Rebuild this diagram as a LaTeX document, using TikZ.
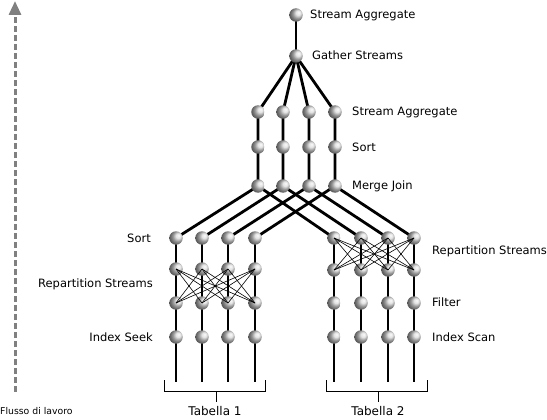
\documentclass[tikz,border=0pt]{standalone}
\usepackage{fontspec}
\setmainfont{DejaVu Sans}
\usetikzlibrary{arrows.meta}
\pgfdeclarelayer{bg}
\pgfsetlayers{bg,main}

\begin{document}
\begin{tikzpicture}[x=1pt,y=-1pt,
  op/.style={circle,inner sep=0pt,minimum size=13.5pt,ball color=gray!30,shading angle=-90},
  lbl/.style={font=\fontsize{11.5}{13}\selectfont,inner sep=0pt,anchor=west},
  pipe/.style={line width=2.8pt},
  xch/.style={line width=0.6pt}]
\useasboundingbox (0,0) rectangle (547,420);
% operators
\node[op] (top) at (296,15) {};
\node[op] (gs) at (296,56) {};
\foreach \x [count=\i] in {258,283,309,335}
	{
	\node[op] (sa\i) at (\x,112) {};
	\node[op] (so\i) at (\x,147) {};
	\node[op] (mj\i) at (\x,186) {};
	}
\foreach \x [count=\i] in {176,202,228,255} % table 1 side
	{
	\node[op] (ls\i) at (\x,238) {};
	\node[op] (lr\i) at (\x,269) {};
	\node[op] (lp\i) at (\x,303) {};
	\node[op] (lx\i) at (\x,337) {};
	\coordinate (le\i) at (\x,382);
	}
\foreach \x [count=\i] in {334,361,388,414} % table 2 side
	{
	\node[op] (rs\i) at (\x,238) {};
	\node[op] (rp\i) at (\x,270) {};
	\node[op] (rf\i) at (\x,303) {};
	\node[op] (rx\i) at (\x,337) {};
	\coordinate (re\i) at (\x,382);
	}
% thick pipes behind the operators
\begin{pgfonlayer}{bg}
\draw[pipe] (top.center) -- (gs.center);
\foreach \i in {1,2,3,4}
	{
	\draw[pipe] (gs.center) -- (sa\i.center) -- (so\i.center) -- (mj\i.center);
	\draw[pipe] (mj\i.center) -- (ls\i.center);
	\draw[pipe] (mj\i.center) -- (rs\i.center);
	\draw[pipe] (ls\i.center) -- (lr\i.center);
	\draw[pipe] (lr\i.center) -- (lp\i.center) -- (lx\i.center) -- (le\i);
	\draw[pipe] (rs\i.center) -- (rp\i.center) -- (rf\i.center) -- (rx\i.center) -- (re\i);
	}
\end{pgfonlayer}
% repartition exchanges
\foreach \i in {1,2,3,4}
	\foreach \j in {1,2,3,4}
	{
	\ifnum\i=\j\else
	\draw[xch] (lr\i.center) -- (lp\j.center);
	\draw[xch] (rs\i.center) -- (rp\j.center);
	\fi
	}
% labels
\node[lbl] (tSA) at (310,15) {Stream Aggregate};
\node[lbl] (tGS) at (312,55) {Gather Streams};
\node[lbl] (tSA2) at (352,112) {Stream Aggregate};
\node[lbl] (tSo) at (352,147) {Sort};
\node[lbl] (tMJ) at (352,186) {Merge Join};
\node[lbl,anchor=east] (tLS) at (151,238) {Sort};
\node[lbl,anchor=east] (tLR) at (153,284) {Repartition Streams};
\node[lbl,anchor=east] (tLX) at (153,337) {Index Seek};
\node[lbl] (tRR) at (432,251) {Repartition Streams};
\node[lbl] (tRF) at (432,302) {Filter};
\node[lbl] (tRX) at (432,337) {Index Scan};
% tables
\draw[line width=1pt] (164,380) -- (164,391) -- (265,391) -- (265,380);
\draw[line width=1pt] (216,391) -- (216,402);
\node[font=\fontsize{12}{14}\selectfont,inner sep=0pt] (tab1) at (215,411) {Tabella 1};
\draw[line width=1pt] (326,380) -- (326,391) -- (427,391) -- (427,380);
\draw[line width=1pt] (378,391) -- (378,402);
\node[font=\fontsize{12}{14}\selectfont,inner sep=0pt] (tab2) at (378,411) {Tabella 2};
% work flow
\coordinate (flowS) at (15,392);
\coordinate (flowE) at (15,1);
\draw[line width=3pt,gray,dash pattern=on 6pt off 3pt,-{Triangle[width=12pt,length=14pt]}] (flowS) -- (flowE);
\node[font=\fontsize{9.3}{10}\selectfont,inner sep=0pt,anchor=west] (tFlow) at (0,411) {Flusso di lavoro};
\end{tikzpicture}
\end{document}
